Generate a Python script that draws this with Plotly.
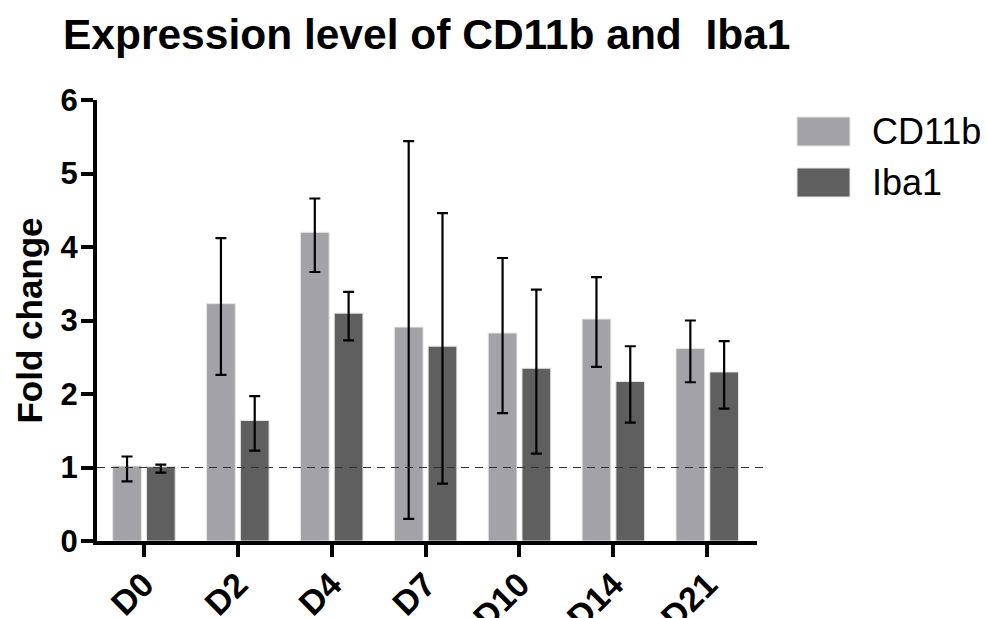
import plotly.graph_objects as go

categories = ["D0", "D2", "D4", "D7", "D10", "D14", "D21"]
cd11b_mean = [1.02, 3.23, 4.20, 2.91, 2.83, 3.02, 2.62]
cd11b_err_plus = [0.13, 0.89, 0.46, 2.53, 1.02, 0.57, 0.38]
cd11b_err_minus = [0.21, 0.97, 0.54, 2.61, 1.09, 0.65, 0.46]
iba1_mean = [1.01, 1.64, 3.10, 2.65, 2.35, 2.17, 2.30]
iba1_err_plus = [0.03, 0.33, 0.29, 1.81, 1.07, 0.48, 0.42]
iba1_err_minus = [0.08, 0.41, 0.37, 1.87, 1.16, 0.56, 0.50]
series_names = ["CD11b", "Iba1"]
ref_level = 1
y_ticks = [0, 1, 2, 3, 4, 5, 6]

c1 = "#a3a3a7"
c2 = "#5f5f5f"
FONT = "Arial, Liberation Sans, sans-serif"

fig = go.Figure()
for name, mean, ep, em, col in [
    (series_names[0], cd11b_mean, cd11b_err_plus, cd11b_err_minus, c1),
    (series_names[1], iba1_mean, iba1_err_plus, iba1_err_minus, c2),
]:
    fig.add_trace(go.Bar(
        x=categories, y=mean, name=name, showlegend=False,
        marker=dict(color=col, line=dict(color="#e6e6e6", width=1)),
        error_y=dict(type="data", symmetric=False, array=ep, arrayminus=em,
                     color="black", thickness=2.2, width=5.5),
    ))

fig.add_shape(type="line", xref="paper", yref="y", x0=0, x1=1.013,
              y0=ref_level, y1=ref_level,
              line=dict(color="#333333", width=1.2, dash="8px,6px"))

# custom legend
for i, (name, col) in enumerate(zip(series_names, [c1, c2])):
    y0 = 117 + i * 51
    fig.add_shape(type="rect", xref="paper", yref="paper",
                  x0=(797 - 97) / 660, x1=(850 - 97) / 660,
                  y0=(541 - (y0 + 29)) / 441, y1=(541 - y0) / 441,
                  fillcolor=col, line=dict(color="#e6e6e6", width=1))
    fig.add_annotation(xref="paper", yref="paper", x=(870 - 97) / 660,
                       y=(541 - (y0 + 14.5)) / 441, text=name, showarrow=False,
                       xanchor="left", yanchor="middle",
                       font=dict(family=FONT, size=36, color="black"))

fig.update_layout(
    width=986, height=618,
    margin=dict(l=97, r=229, t=100, b=77),
    paper_bgcolor="white", plot_bgcolor="white",
    barmode="group", bargap=0.28, bargroupgap=0.15,
    title=dict(text="<b>Expression level of CD11b and\u00a0\u00a0Iba1</b>",
               x=63 / 986, xanchor="left", xref="container",
               y=1 - 34 / 618, yanchor="middle", yref="container",
               font=dict(family=FONT, size=42.5, color="black")),
    font=dict(family=FONT, color="black"),
)
fig.update_xaxes(
    range=[-0.5, 6.53], showline=True, linewidth=4, linecolor="black",
    ticks="outside", ticklen=12, tickwidth=4, tickcolor="black",
    tickangle=-45, tickfont=dict(family=FONT, size=34, color="black", weight="bold"),
    ticklabelstandoff=-6,
    showgrid=False, zeroline=False, automargin=False,
)
fig.update_yaxes(
    range=[0, 6], tickvals=y_ticks, showline=True, linewidth=4, linecolor="black",
    ticks="outside", ticklen=12, tickwidth=4, tickcolor="black",
    tickfont=dict(family=FONT, size=31, color="black", weight="bold"),
    ticklabelstandoff=-3,
    title=dict(text="<b>Fold change</b>", font=dict(family=FONT, size=35, color="black"),
               standoff=8),
    showgrid=False, zeroline=False, automargin=False,
)

fig.write_html("out.html", config={"displayModeBar": False},
               post_script="document.body.style.margin='0';")
